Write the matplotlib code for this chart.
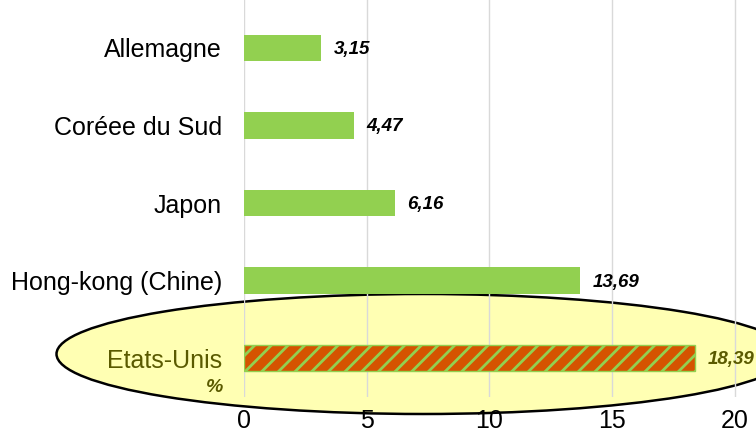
import matplotlib
matplotlib.use("Agg")
import matplotlib.pyplot as plt
from matplotlib.patches import Ellipse

# data
pays = ["Allemagne", "Coréee du Sud", "Japon", "Hong-kong (Chine)", "Etats-Unis"]
valeurs = [3.15, 4.47, 6.16, 13.69, 18.39]
etiquettes = ["3,15", "4,47", "6,16", "13,69", "18,39"]
xticks = [0, 5, 10, 15, 20]

vert = "#92D050"
orange = "#D55300"
olive = "#5A5A00"

plt.rcParams['hatch.linewidth'] = 2.0
narrow = ["Liberation Sans", "DejaVu Sans"]

fig = plt.figure(figsize=(7.56, 4.42), dpi=100)
ax = fig.add_axes([244/756, 1-397/442, 1-244/756, 397/442])
ax.set_facecolor("none")

# the yellow ellipse round the US row
ell = Ellipse((423/756, 1-354/442), 733/756, 120/442, transform=fig.transFigure,
              facecolor="#FFFFB3", edgecolor="black", linewidth=1.8, zorder=-1)
fig.patches.append(ell)

y = list(range(len(pays)))
for i in y:
    if i == len(pays) - 1:
        ax.barh(i, valeurs[i], height=0.34, color=orange, edgecolor=vert,
                hatch="//", linewidth=1, zorder=3)
        c = olive
    else:
        ax.barh(i, valeurs[i], height=0.34, color=vert, zorder=3)
        c = "black"
    ax.text(valeurs[i] + 0.5, i + 0.02, etiquettes[i], va="center", ha="left",
            fontsize=13.5, fontweight="bold", fontstyle="italic", color=c,
            family=["Liberation Sans", "DejaVu Sans"], clip_on=False)

ax.set_xlim(0, 20.86)
ax.set_ylim(4.5, -0.616)
ax.set_yticks(y)
ax.set_yticklabels(pays, family=narrow, fontsize=18)
ax.get_yticklabels()[-1].set_color(olive)
ax.set_xticks(xticks)
ax.set_xticklabels([str(t) for t in xticks], family=narrow, fontsize=18)
ax.tick_params(axis="both", length=0)
ax.tick_params(axis="y", pad=16)
ax.tick_params(axis="x", pad=9)
ax.grid(axis="x", color="#D9D9D9", linewidth=1, zorder=0)
ax.set_axisbelow(True)
for s in ax.spines.values():
    s.set_visible(False)

fig.text(215/756, 1-388/442, "%", fontsize=14, fontweight="bold", fontstyle="italic",
         color=olive, ha="center", va="center", family=["Liberation Sans", "DejaVu Sans"])

fig.savefig("out.png", dpi=100)
